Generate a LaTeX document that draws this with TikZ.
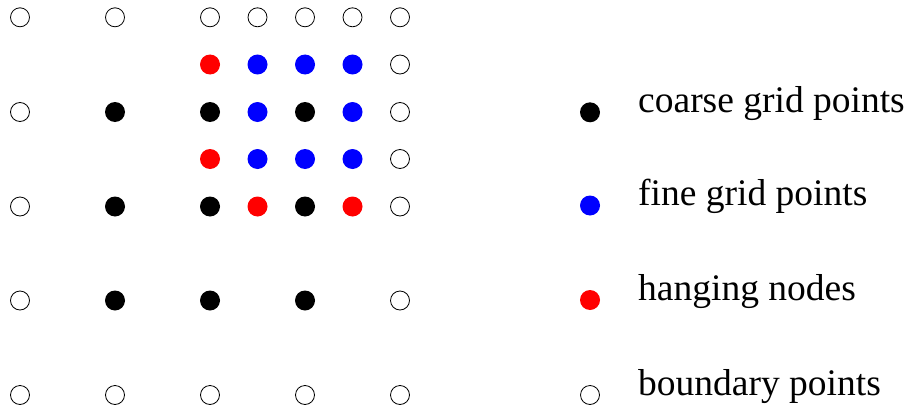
\documentclass[tikz,border=0pt]{standalone}
\usepackage{fontspec}
\setmainfont{Liberation Serif}
\definecolor{pred}{RGB}{255,0,0}
\definecolor{pblue}{RGB}{0,0,255}
\tikzset{
  pt/.style={circle, minimum size=20pt, inner sep=0pt},
  coarse/.style={pt, fill=black},
  fine/.style={pt, fill=pblue},
  hang/.style={pt, fill=pred},
  bnd/.style={circle, minimum size=19pt, inner sep=0pt, draw=black, line width=0.8pt, fill=white},
  lbl/.style={anchor=base west, inner sep=0pt, font=\fontsize{37.5}{40}\selectfont}
}
\begin{document}
\begin{tikzpicture}[x=1pt,y=-1pt]
\useasboundingbox (0,0) rectangle (912,412);
% row y=17.3
\foreach \x/\n in {20/a,115/b,210/c,257.5/d,305/e,352.5/f,400/g}
  \node[bnd] (r0\n) at (\x,17.3) {};
% row y=64.5
\node[hang] (r1c) at (210,64.5) {};
\foreach \x/\n in {257.5/d,305/e,352.5/f}
  \node[fine] (r1\n) at (\x,64.5) {};
\node[bnd] (r1g) at (400,64.5) {};
% row y=112
\node[bnd] (r2a) at (20,112) {};
\node[coarse] (r2b) at (115,112) {};
\node[coarse] (r2c) at (210,112) {};
\node[fine] (r2d) at (257.5,112) {};
\node[coarse] (r2e) at (305,112) {};
\node[fine] (r2f) at (352.5,112) {};
\node[bnd] (r2g) at (400,112) {};
% row y=159
\node[hang] (r3c) at (210,159) {};
\foreach \x/\n in {257.5/d,305/e,352.5/f}
  \node[fine] (r3\n) at (\x,159) {};
\node[bnd] (r3g) at (400,159) {};
% row y=206.5
\node[bnd] (r4a) at (20,206.5) {};
\node[coarse] (r4b) at (115,206.5) {};
\node[coarse] (r4c) at (210,206.5) {};
\node[hang] (r4d) at (257.5,206.5) {};
\node[coarse] (r4e) at (305,206.5) {};
\node[hang] (r4f) at (352.5,206.5) {};
\node[bnd] (r4g) at (400,206.5) {};
% row y=300.5
\node[bnd] (r5a) at (20,300.5) {};
\node[coarse] (r5b) at (115,300.5) {};
\node[coarse] (r5c) at (210,300.5) {};
\node[coarse] (r5e) at (305,300.5) {};
\node[bnd] (r5g) at (400,300.5) {};
% row y=395
\foreach \x/\n in {20/a,115/b,210/c,305/e,400/g}
  \node[bnd] (r6\n) at (\x,395) {};
% legend
\node[coarse] (lg1) at (590,112.3) {};
\node[lbl] (lt1) at (638,112.3) {coarse grid points};
\node[fine] (lg2) at (590,205.5) {};
\node[lbl] (lt2) at (638,205.5) {fine grid points};
\node[hang] (lg3) at (590,300) {};
\node[lbl] (lt3) at (638,300) {hanging nodes};
\node[bnd] (lg4) at (590,395) {};
\node[lbl] (lt4) at (638,395) {boundary points};
\end{tikzpicture}
\end{document}
